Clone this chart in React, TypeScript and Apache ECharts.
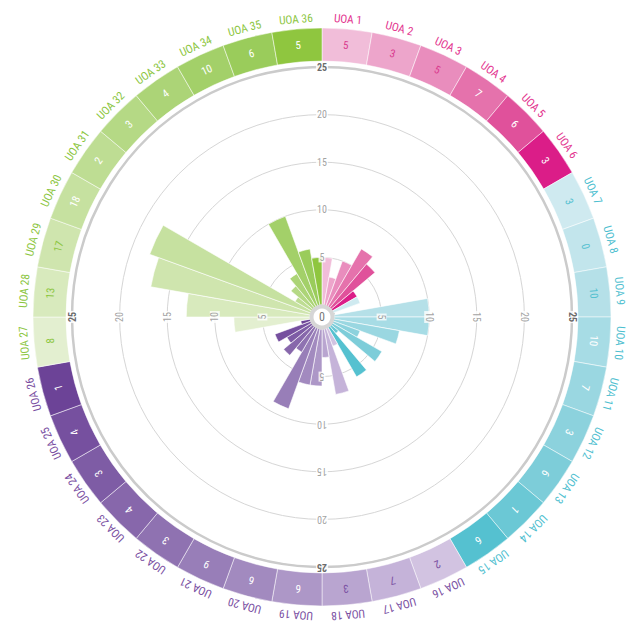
import React, { useEffect, useRef } from 'react';
import * as echarts from 'echarts';

const categories = [
  'UOA 1', 'UOA 2', 'UOA 3', 'UOA 4', 'UOA 5', 'UOA 6',
  'UOA 7', 'UOA 8', 'UOA 9', 'UOA 10', 'UOA 11', 'UOA 12',
  'UOA 13', 'UOA 14', 'UOA 15', 'UOA 16', 'UOA 17', 'UOA 18',
  'UOA 19', 'UOA 20', 'UOA 21', 'UOA 22', 'UOA 23', 'UOA 24',
  'UOA 25', 'UOA 26', 'UOA 27', 'UOA 28', 'UOA 29', 'UOA 30',
  'UOA 31', 'UOA 32', 'UOA 33', 'UOA 34', 'UOA 35', 'UOA 36',
];

const values = [
  5, 3, 5, 7, 6, 3,
  3, 0, 10, 10, 7, 3,
  6, 1, 6, 2, 7, 3,
  6, 6, 9, 3, 4, 3,
  4, 1, 8, 13, 17, 18,
  2, 3, 4, 10, 6, 5,
];

const colors = [
  '#f1bdd9', '#eda5cb', '#e98dbd', '#e572ac', '#e0519b', '#db1d88',
  '#cfeaf0', '#c2e5ec', '#b5e0e8', '#a7dce5', '#9ad7e1', '#8cd2dd',
  '#7dcdd9', '#6bc8d5', '#55c1d0', '#d2c3e1', '#c5b3d9', '#b9a5d0',
  '#ad97c7', '#a28abf', '#987eb8', '#8f72b1', '#8767ab', '#7e5ca5',
  '#76509f', '#6c4397', '#e3efd0', '#d8eabd', '#cfe5ae', '#c6e1a0',
  '#bedd93', '#b5d985', '#acd477', '#a3d069', '#9acc5b', '#8fc63f',
];

const ringTextColors = [
  '#d93a8e', '#d93a8e', '#d93a8e', '#ffffff', '#ffffff', '#ffffff',
  '#55c1d0', '#55c1d0', '#55c1d0', '#ffffff', '#ffffff', '#ffffff',
  '#ffffff', '#ffffff', '#ffffff', '#7a4fa2', '#7a4fa2', '#7a4fa2',
  '#ffffff', '#ffffff', '#ffffff', '#ffffff', '#ffffff', '#ffffff',
  '#ffffff', '#ffffff', '#8cc63f', '#8cc63f', '#8cc63f', '#ffffff',
  '#ffffff', '#ffffff', '#ffffff', '#ffffff', '#ffffff', '#ffffff',
];

const groupLabelColors = [
  '#e3358f', '#e3358f', '#e3358f', '#e3358f', '#e3358f', '#e3358f',
  '#4fc0d0', '#4fc0d0', '#4fc0d0', '#4fc0d0', '#4fc0d0', '#4fc0d0',
  '#4fc0d0', '#4fc0d0', '#4fc0d0', '#7a4fa2', '#7a4fa2', '#7a4fa2',
  '#7a4fa2', '#7a4fa2', '#7a4fa2', '#7a4fa2', '#7a4fa2', '#7a4fa2',
  '#7a4fa2', '#7a4fa2', '#8cc63f', '#8cc63f', '#8cc63f', '#8cc63f',
  '#8cc63f', '#8cc63f', '#8cc63f', '#8cc63f', '#8cc63f', '#8cc63f',
];

const radialTicks = [5, 10, 15, 20, 25];
const tickDirections = [0, 90, 180, 270];

const FONT = "'Liberation Sans Narrow', 'Arial Narrow', 'Roboto Condensed', Roboto, sans-serif";

export default function App() {
  const ref = useRef<HTMLDivElement>(null);

  useEffect(() => {
    if (!ref.current) return;
    const chart = echarts.init(ref.current, undefined, { renderer: 'svg' });
    const center = [322, 317];
    const n = categories.length;

    const tickData: any[] = [];
    tickDirections.forEach((dir) => {
      radialTicks.forEach((t) => {
        const isMax = t === radialTicks[radialTicks.length - 1];
        tickData.push({
          value: [t, dir],
          label: {
            rotate: -dir,
            color: isMax ? '#444' : '#8a8a8a',
            fontWeight: isMax ? 'bold' : 'normal',
          },
        });
      });
    });

    const option: any = {
      animation: false,
      backgroundColor: '#ffffff',
      polar: [
        { center, radius: [12, 250] },
        { center, radius: [12, 250] },
        { center, radius: [256, 289] },
      ],
      angleAxis: [
        {
          polarIndex: 0,
          type: 'category',
          data: categories,
          startAngle: 90,
          clockwise: true,
          boundaryGap: true,
          axisLine: { show: true, lineStyle: { color: '#cbcbcb', width: 2.5 } },
          axisTick: { show: false },
          axisLabel: { show: false },
          splitLine: { show: false },
        },
        {
          polarIndex: 1,
          type: 'value',
          min: 0,
          max: 360,
          startAngle: 90,
          clockwise: true,
          show: false,
        },
        {
          polarIndex: 2,
          type: 'category',
          data: categories,
          startAngle: 90,
          clockwise: true,
          boundaryGap: true,
          show: false,
        },
      ],
      radiusAxis: [
        {
          polarIndex: 0,
          type: 'value',
          min: 0,
          max: 25,
          interval: 5,
          axisLine: { show: false },
          axisTick: { show: false },
          axisLabel: { show: false },
          splitLine: { show: true, lineStyle: { color: '#d6d6d6', width: 1 } },
        },
        { polarIndex: 1, type: 'value', min: 0, max: 25, show: false },
        { polarIndex: 2, type: 'value', min: 0, max: 1, show: false },
      ],
      series: [
        {
          type: 'bar',
          coordinateSystem: 'polar',
          polarIndex: 0,
          barCategoryGap: '0%',
          itemStyle: { borderColor: '#ffffff', borderWidth: 0.6 },
          data: values.map((v, i) => ({ value: v, itemStyle: { color: colors[i] } })),
          z: 2,
        },
        {
          type: 'scatter',
          coordinateSystem: 'polar',
          polarIndex: 1,
          symbolSize: 1,
          itemStyle: { color: 'rgba(0,0,0,0)' },
          label: {
            show: true,
            position: 'inside',
            formatter: (p: any) => String(p.value[0]),
            fontSize: 10,
            fontFamily: FONT,
            backgroundColor: '#ffffff',
            padding: [0, 1],
          },
          data: tickData,
          z: 5,
        },
        {
          type: 'custom',
          coordinateSystem: 'polar',
          polarIndex: 2,
          data: categories.map((_, i) => [1, i]),
          renderItem: (params: any, api: any) => {
            const i = params.dataIndex;
            const cs = params.coordSys;
            const p = api.coord([0.5, i]);
            const a = p[3];
            const half = Math.PI / n;
            const rm = (cs.r + cs.r0) / 2;
            const rl = cs.r + 10;
            return {
              type: 'group',
              children: [
                {
                  type: 'sector',
                  shape: {
                    cx: cs.cx,
                    cy: cs.cy,
                    r0: cs.r0,
                    r: cs.r,
                    startAngle: -a - half,
                    endAngle: -a + half,
                    clockwise: true,
                  },
                  style: { fill: colors[i], stroke: '#ffffff', lineWidth: 0.5 },
                },
                {
                  type: 'text',
                  x: cs.cx + Math.cos(a) * rm,
                  y: cs.cy - Math.sin(a) * rm,
                  rotation: a - Math.PI / 2,
                  style: {
                    text: String(values[i]),
                    fill: ringTextColors[i],
                    fontSize: 11,
                    fontFamily: FONT,
                    align: 'center',
                    verticalAlign: 'middle',
                  },
                },
                {
                  type: 'text',
                  x: cs.cx + Math.cos(a) * rl,
                  y: cs.cy - Math.sin(a) * rl,
                  rotation: a - Math.PI / 2,
                  style: {
                    text: categories[i],
                    fill: groupLabelColors[i],
                    fontSize: 11.5,
                    fontFamily: FONT,
                    align: 'center',
                    verticalAlign: 'middle',
                  },
                },
              ],
            };
          },
          z: 3,
        },
      ],
      graphic: [
        {
          type: 'circle',
          shape: { cx: center[0], cy: center[1], r: 10.5 },
          style: { fill: '#ffffff', stroke: '#d6d6d6', lineWidth: 4 },
          z: 10,
        },
        {
          type: 'text',
          x: center[0],
          y: center[1],
          style: {
            text: '0',
            fill: '#777',
            fontSize: 12,
            fontFamily: FONT,
            align: 'center',
            verticalAlign: 'middle',
          },
          z: 11,
        },
      ],
    };

    chart.setOption(option);
    return () => chart.dispose();
  }, []);

  return (
    <div
      ref={ref}
      style={{ position: 'absolute', left: 0, top: 0, width: 635, height: 623 }}
    />
  );
}
